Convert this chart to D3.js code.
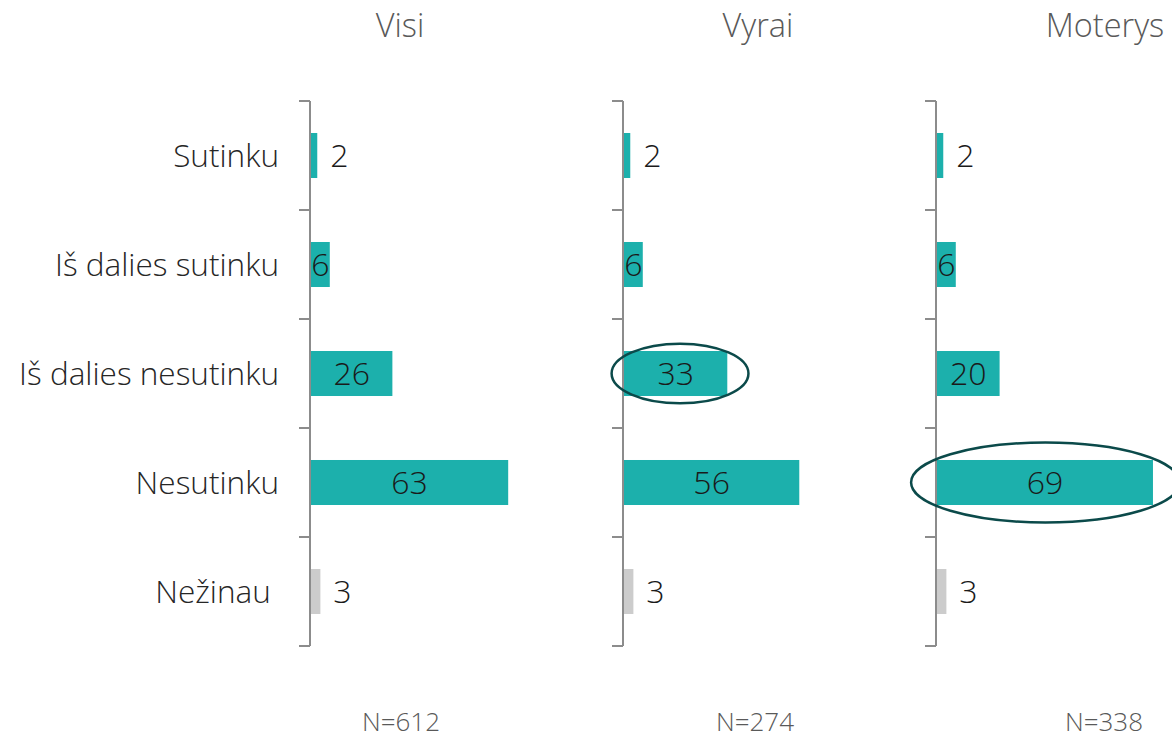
<!DOCTYPE html>
<html>
<head>
<meta charset="utf-8">
<script src="https://cdn.jsdelivr.net/npm/d3@7"></script>
<style>
  body { margin: 0; background: #fff; }
  text { font-family: "Open Sans", "Noto Sans", sans-serif; font-weight: 300; }
</style>
</head>
<body>
<script>
// categories (top to bottom)
let categories = ['Sutinku', 'Iš dalies sutinku', 'Iš dalies nesutinku', 'Nesutinku', 'Nežinau'];
// panels
let groups = ['Visi', 'Vyrai', 'Moterys'];
let sampleSizes = ['N=612', 'N=274', 'N=338'];
// values per panel, in category order
let visiValues = [2, 6, 26, 63, 3];
let vyraiValues = [2, 6, 33, 56, 3];
let moterysValues = [2, 6, 20, 69, 3];
// circled cells
let highlights = [
  {'group': 'Vyrai', 'category': 'Iš dalies nesutinku'},
  {'group': 'Moterys', 'category': 'Nesutinku'}
];

let allValues = [visiValues, vyraiValues, moterysValues];
let teal = '#1cb0ac', grey = '#cccccc', axisColor = '#8c8c8c';

let svg = d3.select('body').append('svg').attr('width', 1172).attr('height', 739);

let y = d3.scaleBand().domain(categories).range([101, 646]).paddingInner(0.587).paddingOuter(0.2935);
let panelX = d3.scalePoint().domain(groups).range([310, 936]);

// category labels
svg.selectAll('text.cat').data(categories).enter().append('text')
  .attr('class', 'cat')
  .attr('x', 279)
  .attr('y', d => y(d) + y.bandwidth() / 2)
  .attr('dy', '0.35em')
  .attr('text-anchor', 'end')
  .attr('font-size', '31.5px')
  .attr('fill', '#262626')
  .text(d => d === 'Nežinau' ? d + '\u00a0' : d);

groups.forEach(function(g, gi) {
  let x0 = panelX(g);
  let x = d3.scaleLinear().domain([0, 100]).range([x0, x0 + 313]);
  let data = categories.map((c, i) => ({'category': c, 'value': allValues[gi][i]}));
  let panel = svg.append('g');

  panel.selectAll('rect').data(data).enter().append('rect')
    .attr('x', x(0) + 1)
    .attr('y', d => y(d.category))
    .attr('width', d => x(d.value) - x(0))
    .attr('height', y.bandwidth())
    .attr('fill', d => d.category === 'Nežinau' ? grey : teal);

  // axis line + ticks at band boundaries
  let step = y.step();
  let bounds = d3.range(categories.length + 1).map(i => y.range()[0] + i * step);
  panel.append('line')
    .attr('x1', x0).attr('x2', x0)
    .attr('y1', bounds[0]).attr('y2', bounds[bounds.length - 1])
    .attr('stroke', axisColor).attr('stroke-width', 2);
  panel.selectAll('line.tick').data(bounds).enter().append('line')
    .attr('class', 'tick')
    .attr('x1', x0 - 11).attr('x2', x0)
    .attr('y1', d => d).attr('y2', d => d)
    .attr('stroke', axisColor).attr('stroke-width', 2);

  // value labels
  panel.selectAll('text.val').data(data).enter().append('text')
    .attr('class', 'val')
    .attr('x', d => d.value <= 3 ? x(d.value) + 23 : (x(0) + x(d.value)) / 2 + 1)
    .attr('y', d => y(d.category) + y.bandwidth() / 2)
    .attr('dy', '0.36em')
    .attr('text-anchor', 'middle')
    .attr('font-size', '32px')
    .attr('fill', '#1a1a1a')
    .text(d => d.value);

  // highlight ellipses
  highlights.filter(h => h.group === g).forEach(function(h) {
    let v = data.find(d => d.category === h.category).value;
    let w = x(v) - x(0);
    panel.append('ellipse')
      .attr('cx', (x(0) + x(v)) / 2 + 9 - w * 0.035)
      .attr('cy', y(h.category) + y.bandwidth() / 2)
      .attr('rx', w * 0.585 + 8)
      .attr('ry', 20.5 + w * 0.09)
      .attr('fill', 'none')
      .attr('stroke', '#0b4a4a')
      .attr('stroke-width', 2.5);
  });
});

// panel titles and sample sizes
let titleX = [400, 758, 1105];
let nX = [401, 755, 1104];
svg.selectAll('text.title').data(groups).enter().append('text')
  .attr('class', 'title')
  .attr('x', (d, i) => titleX[i])
  .attr('y', 37)
  .attr('text-anchor', 'middle')
  .attr('font-size', '32.5px')
  .attr('fill', '#595959')
  .text(d => d);
svg.selectAll('text.n').data(sampleSizes).enter().append('text')
  .attr('class', 'n')
  .attr('x', (d, i) => nX[i])
  .attr('y', 731)
  .attr('text-anchor', 'middle')
  .attr('font-size', '26px')
  .attr('fill', '#595959')
  .text(d => d);
</script>
</body>
</html>
